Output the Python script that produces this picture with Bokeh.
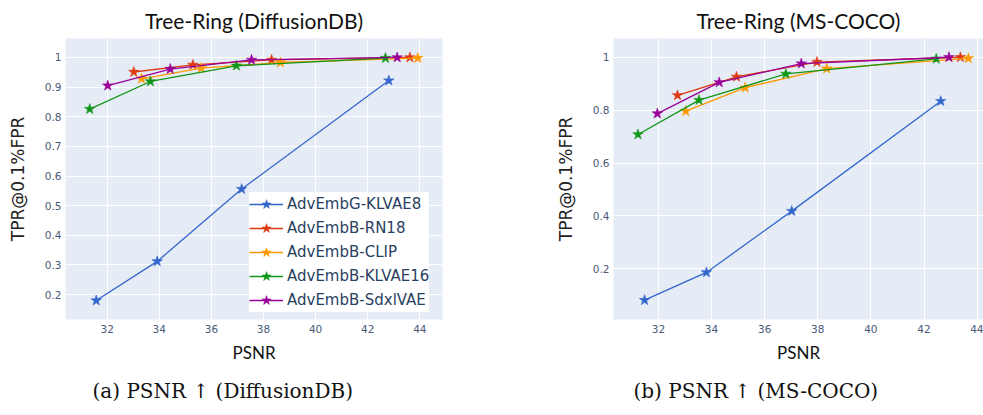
from bokeh.plotting import figure
from bokeh.layouts import row
from bokeh.models import Legend, LegendItem, Title, FixedTicker, Range1d
from bokeh.embed import file_html
from bokeh.resources import INLINE

series_names = ["AdvEmbG-KLVAE8", "AdvEmbB-RN18", "AdvEmbB-CLIP", "AdvEmbB-KLVAE16", "AdvEmbB-SdxlVAE"]
colors = ["#3366CC", "#DC3912", "#FF9900", "#109618", "#990099"]

# DiffusionDB
ddb_psnr = [
    [31.58, 33.92, 37.16, 42.81],
    [33.02, 35.29, 38.31, 43.62],
    [33.32, 35.61, 38.65, 43.92],
    [31.33, 33.66, 36.96, 42.68],
    [32.02, 34.42, 37.54, 43.13],
]
ddb_tpr = [
    [0.180, 0.312, 0.556, 0.922],
    [0.951, 0.975, 0.992, 1.000],
    [0.928, 0.964, 0.983, 0.998],
    [0.826, 0.919, 0.972, 0.998],
    [0.905, 0.961, 0.992, 1.000],
]
# MS-COCO
coco_psnr = [
    [31.48, 33.81, 37.02, 42.63],
    [32.72, 34.94, 37.97, 43.37],
    [33.03, 35.27, 38.34, 43.67],
    [31.23, 33.53, 36.80, 42.46],
    [31.96, 34.29, 37.38, 42.94],
]
coco_tpr = [
    [0.081, 0.186, 0.418, 0.834],
    [0.856, 0.926, 0.982, 1.000],
    [0.796, 0.885, 0.957, 0.996],
    [0.708, 0.838, 0.937, 0.994],
    [0.787, 0.905, 0.976, 1.000],
]

x_ticks = [32, 34, 36, 38, 40, 42, 44]
ddb_y_ticks = [0.2, 0.3, 0.4, 0.5, 0.6, 0.7, 0.8, 0.9, 1]
coco_y_ticks = [0.2, 0.4, 0.6, 0.8, 1]

titles = ["Tree-Ring (DiffusionDB)", "Tree-Ring (MS-COCO)"]
captions = ["(a) PSNR \u2191 (DiffusionDB)", "(b) PSNR \u2191 (MS-COCO)"]

TICK_COLOR = "#4a5a78"
BG = "#E5ECF6"


def make_fig(xs, ys, xr, yr, yticks, title, caption, width, bl, br, with_legend, cap_offset):
    p = figure(width=width, height=415, output_backend="svg", toolbar_location=None,
               x_range=Range1d(*xr), y_range=Range1d(*yr),
               min_border_left=bl, min_border_right=br, min_border_top=37, min_border_bottom=96)
    p.background_fill_color = BG
    p.border_fill_color = "white"
    p.outline_line_color = None
    p.title.text = title
    p.title.align = "center"
    p.title.text_font = "Lato"
    p.title.text_font_size = "21px"
    p.title.text_font_style = "normal"
    p.title.text_color = "#111111"
    p.title.standoff = 11

    for ax in (p.xaxis[0], p.yaxis[0]):
        ax.axis_line_color = None
        ax.major_tick_line_color = None
        ax.minor_tick_line_color = None
        ax.major_label_text_font = "DejaVu Sans"
        ax.major_label_text_font_size = "10.5px"
        ax.major_label_text_color = TICK_COLOR
        ax.major_tick_out = 0
        ax.major_tick_in = 0
    p.xaxis.ticker = FixedTicker(ticks=x_ticks)
    p.yaxis.ticker = FixedTicker(ticks=yticks)
    p.yaxis.major_label_overrides = {1: "1"}
    p.xaxis.major_label_standoff = 5
    p.yaxis.major_label_standoff = 4

    p.xaxis.axis_label = "PSNR"
    p.xaxis.axis_label_text_font = "Lato"
    p.xaxis.axis_label_text_font_size = "17px"
    p.xaxis.axis_label_text_font_style = "normal"
    p.xaxis.axis_label_text_color = "#111111"
    p.xaxis.axis_label_standoff = 6

    p.yaxis.axis_label = "TPR@0.1%FPR"
    p.yaxis.axis_label_text_font = "DejaVu Sans"
    p.yaxis.axis_label_text_font_size = "17px"
    p.yaxis.axis_label_text_font_style = "normal"
    p.yaxis.axis_label_text_color = "#222222"
    p.yaxis.axis_label_standoff = 14

    p.xgrid.grid_line_color = "white"
    p.ygrid.grid_line_color = "white"
    p.xgrid.grid_line_width = 1
    p.ygrid.grid_line_width = 1

    items = []
    for name, c, x, y in zip(series_names, colors, xs, ys):
        l = p.line(x, y, line_color=c, line_width=1.3)
        s = p.scatter(x, y, marker="star", size=11, fill_color=c, line_color=c, line_width=0.6)
        items.append(LegendItem(label=name, renderers=[l, s]))

    if with_legend:
        leg = Legend(items=items, location=(184, 7))
        leg.background_fill_color = "white"
        leg.background_fill_alpha = 1
        leg.border_line_color = None
        leg.label_text_font = "DejaVu Sans"
        leg.label_text_font_size = "15px"
        leg.label_text_color = "#2a3f5f"
        leg.glyph_width = 34
        leg.glyph_height = 24
        leg.label_height = 22
        leg.spacing = 0
        leg.padding = 3
        leg.margin = 0
        leg.label_standoff = 4
        p.add_layout(leg, "center")

    cap = Title(text=caption, align="left", offset=cap_offset, text_font="DejaVu Serif",
                text_font_size="20px", text_font_style="normal", text_color="#111111", standoff=22)
    p.add_layout(cap, "below")
    return p


p1 = make_fig(ddb_psnr, ddb_tpr, (30.4, 44.87), (0.116, 1.064), ddb_y_ticks,
              titles[0], captions[0], 491, 65, 49, True, 27)
p2 = make_fig(coco_psnr, coco_tpr, (30.31, 44.24), (0.008, 1.071), coco_y_ticks,
              titles[1], captions[1], 492, 122, 0, False, 20)

layout = row(p1, p2)
open("out.html", "w").write(file_html(layout, INLINE))
